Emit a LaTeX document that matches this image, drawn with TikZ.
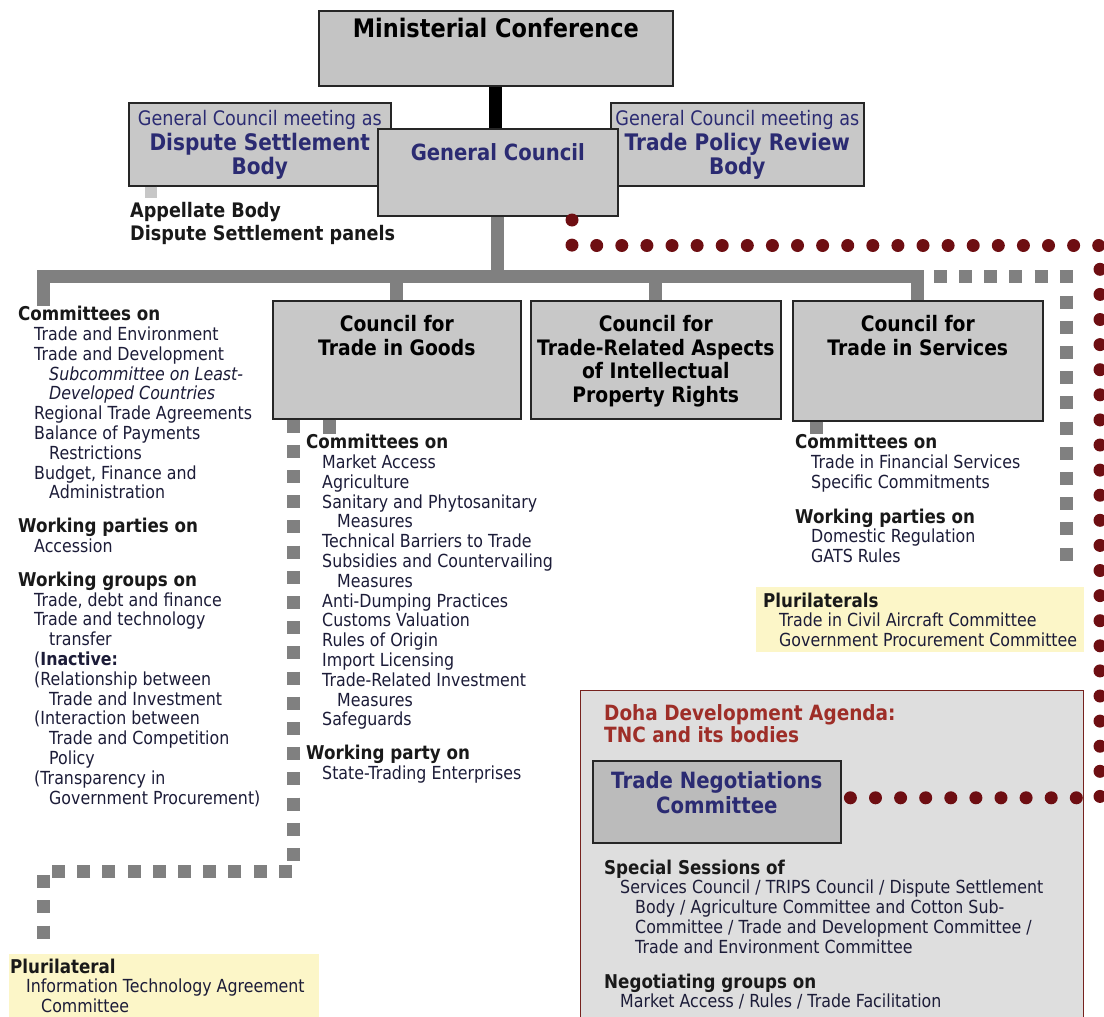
\documentclass[tikz,border=0pt]{standalone}
\usepackage{fontspec}
\setmainfont{DejaVu Sans}[FakeStretch=0.88]
\tikzset{>=stealth}
\usetikzlibrary{calc}
\definecolor{boxgray}{HTML}{C8C8C8}
\definecolor{mcgray}{HTML}{C4C4C4}
\definecolor{tncgray}{HTML}{BBBBBB}
\definecolor{dohagray}{HTML}{DEDEDE}
\definecolor{linkgray}{HTML}{808080}
\definecolor{navy}{HTML}{2B2B72}
\definecolor{bodyink}{HTML}{1C1C38}
\definecolor{dohared}{HTML}{9E2E28}
\definecolor{dotred}{HTML}{6E0E12}
\definecolor{plurbg}{HTML}{FCF6C8}
\newcommand{\fsz}[2]{\fontsize{#1}{#2}\selectfont}
\newcommand{\hd}[1]{{\color{black!90}\bfseries\fsz{19}{19.8}#1}}
\newcommand{\ia}{\hspace*{16pt}}
\newcommand{\ib}{\hspace*{31pt}}
\tikzset{
  box/.style={draw=black!85, line width=1.6pt, fill=boxgray, inner sep=0, anchor=north west},
  title/.style={anchor=north, inner sep=0, align=center, font=\bfseries\fsz{21.3}{23.7}},
  listing/.style={anchor=north west, inner sep=0, align=left, text=bodyink, font=\fsz{18}{19.8}},
  bus/.style={linkgray, line width=13pt},
  squaredots/.style={linkgray, line width=13pt, dash pattern=on 13pt off 12.2pt},
  reddots/.style={dotred, line width=13pt, line cap=round, dash pattern=on 0pt off 25.1pt}
}

\begin{document}
\begin{tikzpicture}[x=1pt,y=-1pt]
\path[use as bounding box, fill=white] (0,0) rectangle (1104,1017);

\node[box, fill=dohagray, draw=dohared!75!black, line width=1.3pt, minimum width=503, minimum height=345] (doha) at (580,690) {};
\node[box, fill=mcgray, minimum width=354, minimum height=75] (mc) at (318,10) {};
\node[box, minimum width=262, minimum height=83] (dsb) at (128,102) {};
\node[box, minimum width=253, minimum height=83] (tprb) at (610,102) {};
\node[box, minimum width=240, minimum height=87] (gc) at (377,128) {};
\node[box, minimum width=248, minimum height=118] (goods) at (272,300) {};
\node[box, minimum width=250, minimum height=118] (trips) at (530,300) {};
\node[box, minimum width=250, minimum height=120] (svc) at (792,300) {};
\node[box, fill=tncgray, minimum width=248, minimum height=82] (tnc) at (592,760) {};
\node[box, fill=plurbg, draw=none, minimum width=328, minimum height=65] (plurs) at (755,586) {};
\node[box, fill=plurbg, draw=none, minimum width=310, minimum height=70] (ita) at (8,953) {};

\node[title, font=\bfseries\fsz{25.5}{28}] (mc-t) at ([yshift=-8.3pt]mc.north) {Ministerial Conference};
\node[title, text=navy, font=\bfseries\fsz{22.8}{24.5}] (dsb-t) at ([yshift=-8.4pt]dsb.north) {{\mdseries\fsz{20}{24.5}General Council meeting as}\\Dispute Settlement\\Body};
\node[title, text=navy, font=\bfseries\fsz{22.8}{24.5}] (tprb-t) at ([yshift=-8.4pt]tprb.north) {{\mdseries\fsz{20}{24.5}General Council meeting as}\\Trade Policy Review\\Body};
\node[title, text=navy, font=\bfseries\fsz{22.3}{24}] (gc-t) at ([yshift=-15.5pt]gc.north) {General Council};
\node[title] (goods-t) at ([yshift=-15pt]goods.north) {Council for\\Trade in Goods};
\node[title] (trips-t) at ([yshift=-15pt]trips.north) {Council for\\Trade-Related Aspects\\of Intellectual\\Property Rights};
\node[title] (svc-t) at ([yshift=-15pt]svc.north) {Council for\\Trade in Services};
\node[title, text=navy, font=\bfseries\fsz{22.4}{25}] (tnc-t) at ([yshift=-11.5pt]tnc.north) {Trade Negotiations\\Committee};

\node[listing, text=black!90, font=\bfseries\fsz{20}{23}] (appel) at (130,202.4) {Appellate Body\\Dispute Settlement panels};
\node[listing] (lcom) at (18,306) {\hd{Committees on}\\
\ia Trade and Environment\\
\ia Trade and Development\\
\ib\textit{Subcommittee on Least-}\\
\ib\textit{Developed Countries}\\
\ia Regional Trade Agreements\\
\ia Balance of Payments\\
\ib Restrictions\\
\ia Budget, Finance and\\
\ib Administration\\[14pt]
\hd{Working parties on}\\
\ia Accession\\[14pt]
\hd{Working groups on}\\
\ia Trade, debt and finance\\
\ia Trade and technology\\
\ib transfer\\
\ia (\textbf{Inactive:}\\
\ia (Relationship between\\
\ib Trade and Investment\\
\ia (Interaction between\\
\ib Trade and Competition\\
\ib Policy\\
\ia (Transparency in\\
\ib Government Procurement)};
\node[listing] (gcom) at (306,434) {\hd{Committees on}\\
\ia Market Access\\
\ia Agriculture\\
\ia Sanitary and Phytosanitary\\
\ib Measures\\
\ia Technical Barriers to Trade\\
\ia Subsidies and Countervailing\\
\ib Measures\\
\ia Anti-Dumping Practices\\
\ia Customs Valuation\\
\ia Rules of Origin\\
\ia Import Licensing\\
\ia Trade-Related Investment\\
\ib Measures\\
\ia Safeguards\\[14pt]
\hd{Working party on}\\
\ia State-Trading Enterprises};
\node[listing] (scom) at (795,434) {\hd{Committees on}\\
\ia Trade in Financial Services\\
\ia Specific Commitments\\[15pt]
\hd{Working parties on}\\
\ia Domestic Regulation\\
\ia GATS Rules};
\node[listing] (plurs-t) at (763,592.5) {\hd{Plurilaterals}\\
\ia Trade in Civil Aircraft Committee\\
\ia Government Procurement Committee};
\node[listing] (ita-t) at (10,958.5) {\hd{Plurilateral}\\
\ia Information Technology Agreement\\
\ib Committee};
\node[listing, text=dohared, font=\bfseries\fsz{21}{22}] (doha-t) at (604,704.5) {Doha Development Agenda:\\TNC and its bodies};
\node[listing] (tncbody) at (604,859.5) {\hd{Special Sessions of}\\
\ia Services Council / TRIPS Council / Dispute Settlement\\
\ib Body / Agriculture Committee and Cotton Sub-\\
\ib Committee / Trade and Development Committee /\\
\ib Trade and Environment Committee\\[15pt]
\hd{Negotiating groups on}\\
\ia Market Access / Rules / Trade Facilitation};

\coordinate (bus) at (0,276.5);
\coordinate (dsbdrop) at ([xshift=23pt]dsb.south west);
\coordinate (gdrop) at ([xshift=57.5pt]goods.south west);
\coordinate (sdrop) at ([xshift=24pt]svc.south west);
\coordinate (gdots) at ([xshift=21.5pt]goods.south west);
\coordinate (itaturn) at (43.5,871.5);
\coordinate (sdots) at ([xshift=16pt]svc.north |- bus);
\coordinate (svcturn) at (1066,276.5);
\coordinate (svcend) at (1066,571);
\coordinate (tncdot) at (572,220);
\coordinate (redturn) at (1100,245.5);
\coordinate (tncin) at ([yshift=4pt]tnc.east);

\draw[line width=13pt] (mc.south) -- (mc.south |- gc.north);
\draw[line width=12pt, black!22] (dsbdrop) -- ++(0,11);
\draw[bus] (gc.south) -- (gc.south |- bus);
\draw[bus] ([xshift=25.5pt]lcom.north west) |- (svc.north |- bus) -- (svc.north);
\draw[bus] (goods.north |- bus) -- (goods.north);
\draw[bus] (trips.north |- bus) -- (trips.north);
\draw[bus] (gdrop) -- (gdrop |- gcom.north);
\draw[bus] (sdrop) -- (sdrop |- scom.north);
\draw[squaredots, shorten >=3pt] (gdots) |- (itaturn) -- (itaturn |- ita.north);
\draw[squaredots] (sdots) -- (svcturn) -- (svcend);
\draw[reddots] (tncdot) |- (redturn) -- (redturn |- tncin) -- (tncin);
\end{tikzpicture}
\end{document}
